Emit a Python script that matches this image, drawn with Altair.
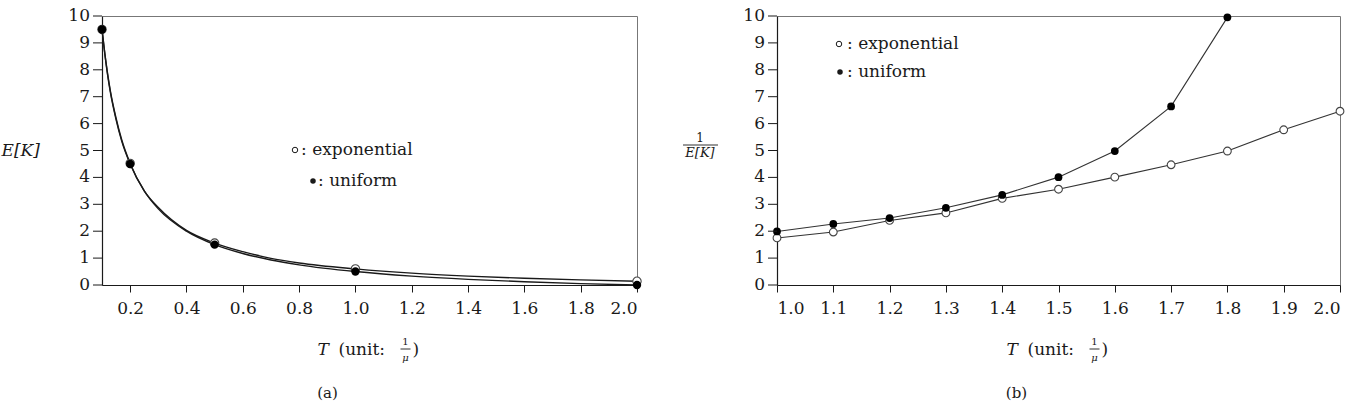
import altair as alt
import pandas as pd

FONT = "DejaVu Serif"
INK = "#1a1a1a"

# ---------------- Panel (a): E[K] vs T ----------------
a_T_marks = [0.1, 0.2, 0.5, 1.0, 2.0]
a_exp_marks = [9.5, 4.52, 1.56, 0.6, 0.14]
a_uni_marks = [9.5, 4.5, 1.5, 0.5, 0.0]

a_T_curve = [0.1, 0.11, 0.12, 0.13, 0.15, 0.17, 0.2, 0.25, 0.3, 0.4, 0.5,
             0.6, 0.7, 0.8, 1.0, 1.2, 1.4, 1.6, 1.8, 2.0]
a_exp_curve = [9.5, 8.6, 7.85, 7.2, 6.2, 5.4, 4.52, 3.5, 2.88, 2.03, 1.56,
               1.24, 0.99, 0.82, 0.6, 0.44, 0.33, 0.25, 0.19, 0.14]
a_uni_curve = [9.5, 8.6, 7.8, 7.15, 6.15, 5.35, 4.5, 3.5, 2.83, 2.0, 1.5,
               1.17, 0.93, 0.75, 0.5, 0.33, 0.21, 0.12, 0.05, 0.0]

a_xticks = [0.2, 0.4, 0.6, 0.8, 1.0, 1.2, 1.4, 1.6, 1.8, 2.0]

# ---------------- Panel (b): 1/E[K] vs T ----------------
b_T_exp = [1.0, 1.1, 1.2, 1.3, 1.4, 1.5, 1.6, 1.7, 1.8, 1.9, 2.0]
b_exp = [1.75, 1.97, 2.4, 2.68, 3.22, 3.56, 4.01, 4.47, 4.98, 5.77, 6.46]
b_T_uni = [1.0, 1.1, 1.2, 1.3, 1.4, 1.5, 1.6, 1.7, 1.8]
b_uni = [1.99, 2.27, 2.49, 2.87, 3.35, 4.01, 4.98, 6.64, 9.95]

b_xticks = [1.0, 1.1, 1.2, 1.3, 1.4, 1.5, 1.6, 1.7, 1.8, 1.9, 2.0]
y_ticks = [0, 1, 2, 3, 4, 5, 6, 7, 8, 9, 10]

W_A, W_B, H = 535, 563, 269

dfa_curve = pd.concat([
    pd.DataFrame({"T": a_T_curve, "v": a_exp_curve, "s": "exponential"}),
    pd.DataFrame({"T": a_T_curve, "v": a_uni_curve, "s": "uniform"}),
])
dfa_exp = pd.DataFrame({"T": a_T_marks, "v": a_exp_marks})
dfa_uni = pd.DataFrame({"T": a_T_marks, "v": a_uni_marks})

dfb_exp = pd.DataFrame({"T": b_T_exp, "v": b_exp})
dfb_uni = pd.DataFrame({"T": b_T_uni, "v": b_uni})

df_yt = pd.DataFrame({"v": y_ticks})

ONE = alt.Data(values=[{"k": 0}])
YSCALE = alt.Scale(domain=[0, 10], nice=False, zero=False)


def txt(text, x, y, size=16, style="normal", align="left"):
    return alt.Chart(ONE).mark_text(
        text=text, font=FONT, fontSize=size, fontStyle=style, align=align,
        baseline="middle", color=INK
    ).encode(x=alt.value(x), y=alt.value(y))


def bar(x1, x2, y):
    return alt.Chart(ONE).mark_rule(color=INK, strokeWidth=0.9).encode(
        x=alt.value(x1), x2=alt.value(x2), y=alt.value(y))


def dot(x, y, filled, size=30):
    if filled:
        m = alt.Chart(ONE).mark_circle(size=size, color=INK, opacity=1)
    else:
        m = alt.Chart(ONE).mark_circle(size=size, fill="white", stroke=INK,
                                       strokeWidth=1, opacity=1)
    return m.encode(x=alt.value(x), y=alt.value(y))


def xtitle(cx, caption):
    return [
        txt("T", cx - 52, 334, size=17, style="italic"),
        txt("(unit:", cx - 31, 334, size=17),
        txt("1", cx + 36, 326, size=10, align="center"),
        bar(cx + 31, cx + 41, 333),
        txt("μ", cx + 36, 342, size=10, style="italic", align="center"),
        txt(")", cx + 43, 334, size=17),
        txt(caption, cx - 42, 377, size=15, align="center"),
    ]


def yticks_layers():
    ticks = alt.Chart(df_yt).mark_rule(color=INK, strokeWidth=1).encode(
        y=alt.Y("v:Q", scale=YSCALE), x=alt.value(-9), x2=alt.value(0))
    labels = alt.Chart(df_yt).mark_text(
        font=FONT, fontSize=17, align="right", baseline="middle", color=INK
    ).encode(y=alt.Y("v:Q", scale=YSCALE), x=alt.value(-12),
             text=alt.Text("v:Q", format="d"))
    return [ticks, labels]


def xenc(domain, ticks):
    return alt.X("T:Q", scale=alt.Scale(domain=domain, nice=False, zero=False),
                 axis=alt.Axis(values=ticks, format=".1f", tickSize=7,
                               labelPadding=8, labelOverlap=False),
                 title=None)


# ---- panel (a) ----
ya = alt.Y("v:Q", scale=YSCALE,
           axis=alt.Axis(labels=False, ticks=False,
                         title="E[K]", titleAngle=0, titleX=-101, titleY=134,
                         titleAlign="left", titleBaseline="middle",
                         titleFontStyle="italic", titleFontSize=17,
                         titleFontWeight="normal", titleFont=FONT,
                         titleColor=INK))
xa = xenc([0.1, 2.0], a_xticks)

a_lines = alt.Chart(dfa_curve).mark_line(
    color=INK, strokeWidth=1.4, interpolate="monotone"
).encode(x=xa, y=ya, detail="s:N")
a_open = alt.Chart(dfa_exp).mark_circle(
    size=70, fill="white", stroke="#444", strokeWidth=1.1, opacity=1
).encode(x=xa, y=ya)
a_fill = alt.Chart(dfa_uni).mark_circle(size=70, color="#000", opacity=1).encode(
    x=xa, y=ya)

cxa = W_A / 2
panel_a = alt.layer(
    a_lines, a_open, a_fill, *yticks_layers(),
    dot(193, 134, False), txt(": exponential", 199, 134, size=17),
    dot(211, 165, True), txt(": uniform", 216, 165, size=17),
    *xtitle(cxa, "(a)"),
).properties(width=W_A, height=H)

# ---- panel (b) ----
yb = alt.Y("v:Q", scale=YSCALE,
           axis=alt.Axis(labels=False, ticks=False), title=None)
xb = xenc([1.0, 2.0], b_xticks)

b_exp_line = alt.Chart(dfb_exp).mark_line(color="#333", strokeWidth=1.1).encode(
    x=xb, y=yb)
b_uni_line = alt.Chart(dfb_uni).mark_line(color="#333", strokeWidth=1.1).encode(
    x=xb, y=yb)
b_open = alt.Chart(dfb_exp).mark_circle(
    size=60, fill="white", stroke="#444", strokeWidth=1.1, opacity=1
).encode(x=xb, y=yb)
b_fill = alt.Chart(dfb_uni).mark_circle(size=60, color="#000", opacity=1).encode(
    x=xb, y=yb)

cxb = W_B / 2
panel_b = alt.layer(
    b_exp_line, b_uni_line, b_open, b_fill, *yticks_layers(),
    dot(62, 28, False), txt(": exponential", 70, 28, size=17),
    dot(63, 56, True), txt(": uniform", 70, 56, size=17),
    txt("1", -77, 122, size=12, align="center"),
    bar(-94, -59, 129),
    txt("E[K]", -77, 137, size=13, style="italic", align="center"),
    *xtitle(cxb, "(b)"),
).properties(width=W_B, height=H)

chart = alt.hconcat(panel_a, panel_b, spacing=38).properties(
    padding={"left": 0, "top": 6, "right": 0, "bottom": 0},
    background="white",
).configure_view(
    stroke="#777", strokeWidth=1
).configure_axis(
    grid=False, domainColor=INK, tickColor=INK, labelColor=INK,
    labelFont=FONT, labelFontSize=17, domainWidth=1.2, tickWidth=1,
    labelOverlap=False
)

chart.save("out.html", embed_options={"renderer": "svg", "actions": False})
